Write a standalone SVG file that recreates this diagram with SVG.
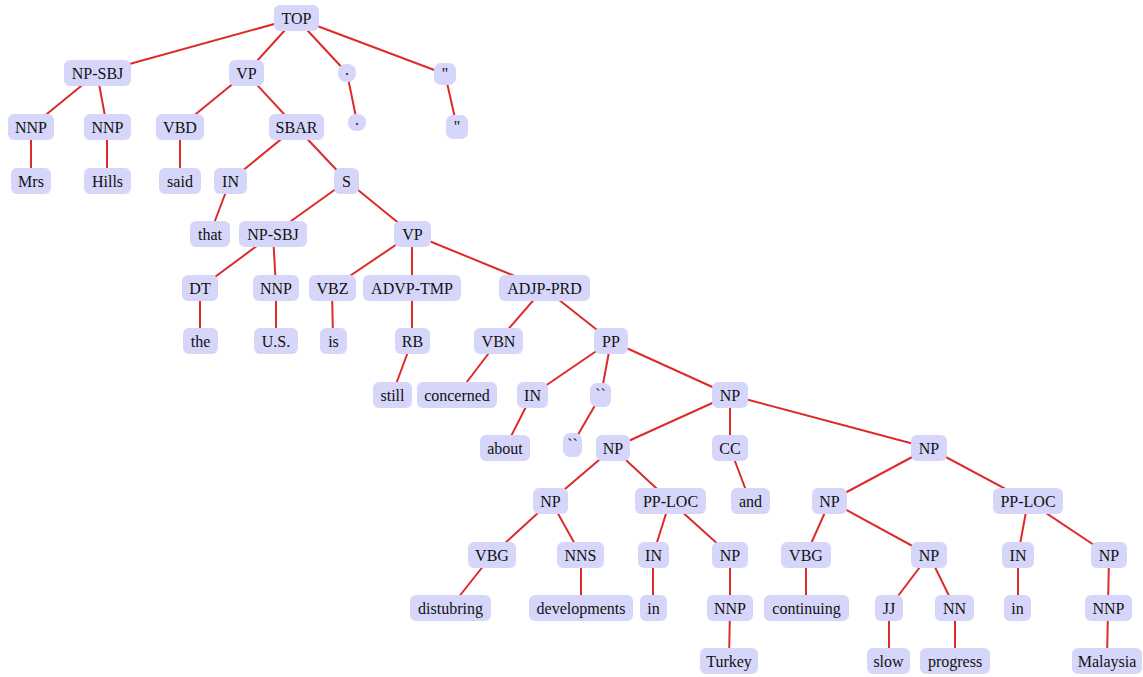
<svg xmlns="http://www.w3.org/2000/svg" width="1143" height="677" viewBox="0 0 1143 677">
<style>
.n rect{fill:#d6d6fa;stroke:none}
.n text{font-family:"Liberation Serif","Times New Roman",serif;font-size:16px;fill:#111;text-anchor:middle}
#edges line{stroke:#dd2a2a;stroke-width:2;stroke-linecap:round}
</style>
<rect width="1143" height="677" fill="#fff"/>
<g id="edges">
<line x1="296" y1="18" x2="97" y2="73"/>
<line x1="296" y1="18" x2="246" y2="73"/>
<line x1="296" y1="18" x2="347" y2="73"/>
<line x1="296" y1="18" x2="445" y2="74"/>
<line x1="97" y1="73" x2="31" y2="127"/>
<line x1="97" y1="73" x2="107" y2="127"/>
<line x1="31" y1="127" x2="31" y2="181"/>
<line x1="107" y1="127" x2="107" y2="181"/>
<line x1="246" y1="73" x2="180" y2="127"/>
<line x1="246" y1="73" x2="296" y2="127"/>
<line x1="180" y1="127" x2="180" y2="181"/>
<line x1="347" y1="73" x2="357" y2="122"/>
<line x1="445" y1="74" x2="457" y2="127"/>
<line x1="296" y1="127" x2="230" y2="181"/>
<line x1="296" y1="127" x2="347" y2="181"/>
<line x1="230" y1="181" x2="210" y2="234"/>
<line x1="347" y1="181" x2="273" y2="234"/>
<line x1="347" y1="181" x2="412" y2="234"/>
<line x1="273" y1="234" x2="200" y2="288"/>
<line x1="273" y1="234" x2="276" y2="288"/>
<line x1="200" y1="288" x2="200" y2="341"/>
<line x1="276" y1="288" x2="276" y2="341"/>
<line x1="412" y1="234" x2="332" y2="288"/>
<line x1="412" y1="234" x2="412" y2="288"/>
<line x1="412" y1="234" x2="544" y2="288"/>
<line x1="332" y1="288" x2="333" y2="341"/>
<line x1="412" y1="288" x2="412" y2="341"/>
<line x1="412" y1="341" x2="392" y2="395"/>
<line x1="544" y1="288" x2="498" y2="341"/>
<line x1="544" y1="288" x2="611" y2="341"/>
<line x1="498" y1="341" x2="457" y2="395"/>
<line x1="611" y1="341" x2="532" y2="395"/>
<line x1="611" y1="341" x2="601" y2="395"/>
<line x1="611" y1="341" x2="730" y2="395"/>
<line x1="532" y1="395" x2="505" y2="448"/>
<line x1="601" y1="395" x2="572" y2="445"/>
<line x1="730" y1="395" x2="613" y2="448"/>
<line x1="730" y1="395" x2="730" y2="448"/>
<line x1="730" y1="395" x2="929" y2="448"/>
<line x1="730" y1="448" x2="750" y2="501"/>
<line x1="613" y1="448" x2="551" y2="501"/>
<line x1="613" y1="448" x2="670" y2="501"/>
<line x1="551" y1="501" x2="492" y2="555"/>
<line x1="551" y1="501" x2="581" y2="555"/>
<line x1="492" y1="555" x2="450" y2="608"/>
<line x1="581" y1="555" x2="581" y2="608"/>
<line x1="670" y1="501" x2="653" y2="555"/>
<line x1="670" y1="501" x2="730" y2="555"/>
<line x1="653" y1="555" x2="653" y2="608"/>
<line x1="730" y1="555" x2="730" y2="608"/>
<line x1="730" y1="608" x2="729" y2="661"/>
<line x1="929" y1="448" x2="830" y2="501"/>
<line x1="929" y1="448" x2="1028" y2="501"/>
<line x1="830" y1="501" x2="806" y2="555"/>
<line x1="830" y1="501" x2="929" y2="555"/>
<line x1="806" y1="555" x2="806" y2="608"/>
<line x1="929" y1="555" x2="889" y2="608"/>
<line x1="929" y1="555" x2="955" y2="608"/>
<line x1="889" y1="608" x2="889" y2="661"/>
<line x1="955" y1="608" x2="955" y2="661"/>
<line x1="1028" y1="501" x2="1018" y2="555"/>
<line x1="1028" y1="501" x2="1109" y2="555"/>
<line x1="1018" y1="555" x2="1018" y2="608"/>
<line x1="1109" y1="555" x2="1108" y2="608"/>
<line x1="1108" y1="608" x2="1107" y2="661"/>
</g>
<g id="n_top" class="n"><rect x="274" y="5" width="45" height="26" rx="6"/><text x="296.5" y="23.5">TOP</text></g>
<g id="n_npsbj1" class="n"><rect x="64" y="60" width="67" height="26" rx="6"/><text x="97.5" y="78.5">NP-SBJ</text></g>
<g id="n_vp1" class="n"><rect x="229" y="60" width="35" height="26" rx="6"/><text x="246.5" y="78.5">VP</text></g>
<g id="n_p1" class="n"><rect x="338" y="64" width="18" height="18" rx="8"/><text x="347" y="75">.</text></g>
<g id="n_q1" class="n"><rect x="434" y="63" width="22" height="22" rx="7"/><text x="445" y="79">''</text></g>
<g id="n_nnp1" class="n"><rect x="8" y="114" width="46" height="26" rx="6"/><text x="31" y="132.5">NNP</text></g>
<g id="n_nnp2" class="n"><rect x="84" y="114" width="47" height="26" rx="6"/><text x="107.5" y="132.5">NNP</text></g>
<g id="n_vbd" class="n"><rect x="156" y="114" width="48" height="26" rx="6"/><text x="180" y="132.5">VBD</text></g>
<g id="n_sbar" class="n"><rect x="269" y="114" width="55" height="26" rx="6"/><text x="296.5" y="132.5">SBAR</text></g>
<g id="n_p2" class="n"><rect x="348" y="114" width="18" height="17" rx="8"/><text x="357" y="125">.</text></g>
<g id="n_q2" class="n"><rect x="446" y="115" width="22" height="24" rx="7"/><text x="457" y="132">''</text></g>
<g id="n_mrs" class="n"><rect x="11" y="168" width="40" height="26" rx="6"/><text x="31" y="186.5">Mrs</text></g>
<g id="n_hills" class="n"><rect x="84" y="168" width="47" height="26" rx="6"/><text x="107.5" y="186.5">Hills</text></g>
<g id="n_said" class="n"><rect x="159" y="168" width="42" height="26" rx="6"/><text x="180" y="186.5">said</text></g>
<g id="n_in1" class="n"><rect x="214" y="168" width="33" height="26" rx="6"/><text x="230.5" y="186.5">IN</text></g>
<g id="n_s" class="n"><rect x="334" y="168" width="25" height="26" rx="6"/><text x="346.5" y="186.5">S</text></g>
<g id="n_that" class="n"><rect x="190" y="221" width="40" height="26" rx="6"/><text x="210" y="239.5">that</text></g>
<g id="n_npsbj2" class="n"><rect x="239" y="221" width="68" height="26" rx="6"/><text x="273" y="239.5">NP-SBJ</text></g>
<g id="n_vp2" class="n"><rect x="394" y="221" width="37" height="26" rx="6"/><text x="412.5" y="239.5">VP</text></g>
<g id="n_dt" class="n"><rect x="182" y="275" width="36" height="26" rx="6"/><text x="200" y="293.5">DT</text></g>
<g id="n_nnp3" class="n"><rect x="253" y="275" width="46" height="26" rx="6"/><text x="276" y="293.5">NNP</text></g>
<g id="n_vbz" class="n"><rect x="309" y="275" width="47" height="26" rx="6"/><text x="332.5" y="293.5">VBZ</text></g>
<g id="n_advp" class="n"><rect x="363" y="275" width="98" height="26" rx="6"/><text x="412" y="293.5">ADVP-TMP</text></g>
<g id="n_adjp" class="n"><rect x="499" y="275" width="91" height="26" rx="6"/><text x="544.5" y="293.5">ADJP-PRD</text></g>
<g id="n_the" class="n"><rect x="183" y="328" width="35" height="26" rx="6"/><text x="200.5" y="346.5">the</text></g>
<g id="n_us" class="n"><rect x="254" y="328" width="44" height="26" rx="6"/><text x="276" y="346.5">U.S.</text></g>
<g id="n_is" class="n"><rect x="320" y="328" width="27" height="26" rx="6"/><text x="333.5" y="346.5">is</text></g>
<g id="n_rb" class="n"><rect x="395" y="328" width="35" height="26" rx="6"/><text x="412.5" y="346.5">RB</text></g>
<g id="n_vbn" class="n"><rect x="474" y="328" width="49" height="26" rx="6"/><text x="498.5" y="346.5">VBN</text></g>
<g id="n_pp" class="n"><rect x="594" y="328" width="34" height="26" rx="6"/><text x="611" y="346.5">PP</text></g>
<g id="n_still" class="n"><rect x="373" y="382" width="39" height="26" rx="6"/><text x="392.5" y="400.5">still</text></g>
<g id="n_concerned" class="n"><rect x="417" y="382" width="80" height="26" rx="6"/><text x="457" y="400.5">concerned</text></g>
<g id="n_in2" class="n"><rect x="517" y="382" width="31" height="26" rx="6"/><text x="532.5" y="400.5">IN</text></g>
<g id="n_q3" class="n"><rect x="590" y="383" width="21" height="24" rx="7"/><text x="600.5" y="400">``</text></g>
<g id="n_np1" class="n"><rect x="712" y="382" width="36" height="26" rx="6"/><text x="730" y="400.5">NP</text></g>
<g id="n_about" class="n"><rect x="480" y="435" width="50" height="26" rx="6"/><text x="505" y="453.5">about</text></g>
<g id="n_q4" class="n"><rect x="563" y="433" width="19" height="24" rx="7"/><text x="572.5" y="450">``</text></g>
<g id="n_np2" class="n"><rect x="596" y="435" width="34" height="26" rx="6"/><text x="613" y="453.5">NP</text></g>
<g id="n_cc" class="n"><rect x="712" y="435" width="36" height="26" rx="6"/><text x="730" y="453.5">CC</text></g>
<g id="n_np3" class="n"><rect x="911" y="435" width="36" height="26" rx="6"/><text x="929" y="453.5">NP</text></g>
<g id="n_np4" class="n"><rect x="533" y="488" width="35" height="26" rx="6"/><text x="550.5" y="506.5">NP</text></g>
<g id="n_pploc1" class="n"><rect x="635" y="488" width="71" height="26" rx="6"/><text x="670.5" y="506.5">PP-LOC</text></g>
<g id="n_and" class="n"><rect x="731" y="488" width="39" height="26" rx="6"/><text x="750.5" y="506.5">and</text></g>
<g id="n_np5" class="n"><rect x="812" y="488" width="35" height="26" rx="6"/><text x="829.5" y="506.5">NP</text></g>
<g id="n_pploc2" class="n"><rect x="993" y="488" width="70" height="26" rx="6"/><text x="1028" y="506.5">PP-LOC</text></g>
<g id="n_vbg1" class="n"><rect x="468" y="542" width="48" height="26" rx="6"/><text x="492" y="560.5">VBG</text></g>
<g id="n_nns" class="n"><rect x="557" y="542" width="47" height="26" rx="6"/><text x="580.5" y="560.5">NNS</text></g>
<g id="n_in3" class="n"><rect x="638" y="542" width="31" height="26" rx="6"/><text x="653.5" y="560.5">IN</text></g>
<g id="n_np6" class="n"><rect x="712" y="542" width="36" height="26" rx="6"/><text x="730" y="560.5">NP</text></g>
<g id="n_vbg2" class="n"><rect x="781" y="542" width="50" height="26" rx="6"/><text x="806" y="560.5">VBG</text></g>
<g id="n_np7" class="n"><rect x="911" y="542" width="36" height="26" rx="6"/><text x="929" y="560.5">NP</text></g>
<g id="n_in4" class="n"><rect x="1002" y="542" width="32" height="26" rx="6"/><text x="1018" y="560.5">IN</text></g>
<g id="n_np8" class="n"><rect x="1091" y="542" width="36" height="26" rx="6"/><text x="1109" y="560.5">NP</text></g>
<g id="n_distubring" class="n"><rect x="410" y="595" width="81" height="26" rx="6"/><text x="450.5" y="613.5">distubring</text></g>
<g id="n_developments" class="n"><rect x="529" y="595" width="104" height="26" rx="6"/><text x="581" y="613.5">developments</text></g>
<g id="n_in5" class="n"><rect x="640" y="595" width="27" height="26" rx="6"/><text x="653.5" y="613.5">in</text></g>
<g id="n_nnp4" class="n"><rect x="707" y="595" width="46" height="26" rx="6"/><text x="730" y="613.5">NNP</text></g>
<g id="n_continuing" class="n"><rect x="764" y="595" width="85" height="26" rx="6"/><text x="806.5" y="613.5">continuing</text></g>
<g id="n_jj" class="n"><rect x="875" y="595" width="28" height="26" rx="6"/><text x="889" y="613.5">JJ</text></g>
<g id="n_nn" class="n"><rect x="935" y="595" width="39" height="26" rx="6"/><text x="954.5" y="613.5">NN</text></g>
<g id="n_in6" class="n"><rect x="1004" y="595" width="27" height="26" rx="6"/><text x="1017.5" y="613.5">in</text></g>
<g id="n_nnp5" class="n"><rect x="1085" y="595" width="47" height="26" rx="6"/><text x="1108.5" y="613.5">NNP</text></g>
<g id="n_turkey" class="n"><rect x="700" y="648" width="58" height="26" rx="6"/><text x="729" y="666.5">Turkey</text></g>
<g id="n_slow" class="n"><rect x="867" y="648" width="43" height="26" rx="6"/><text x="888.5" y="666.5">slow</text></g>
<g id="n_progress" class="n"><rect x="920" y="648" width="70" height="26" rx="6"/><text x="955" y="666.5">progress</text></g>
<g id="n_malaysia" class="n"><rect x="1072" y="648" width="70" height="26" rx="6"/><text x="1107" y="666.5">Malaysia</text></g>
</svg>
